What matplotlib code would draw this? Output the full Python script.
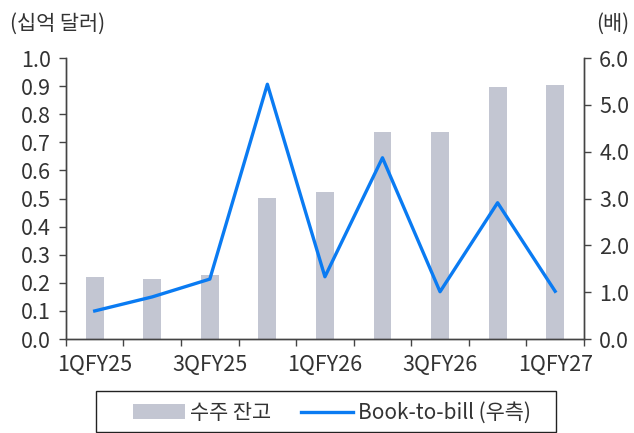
import matplotlib.pyplot as plt
from matplotlib.patches import Rectangle
import numpy as np

plt.rcParams['font.family'] = ['Noto Sans CJK KR', 'DejaVu Sans']

# data
quarters = ['1QFY25', '2QFY25', '3QFY25', '4QFY25', '1QFY26',
            '2QFY26', '3QFY26', '4QFY26', '1QFY27']
backlog = [0.22, 0.212, 0.227, 0.503, 0.522, 0.736, 0.736, 0.898, 0.905]
book_to_bill = [0.60, 0.90, 1.28, 5.44, 1.33, 3.87, 1.01, 2.91, 1.02]

bar_color = '#C3C6D2'
line_color = '#0A7BF2'
axis_color = '#444444'
text_color = '#333333'

fig = plt.figure(figsize=(6.34, 4.33), dpi=100)
ax = fig.add_axes([0.104, 0.217, 0.817, 0.649])
ax2 = ax.twinx()

x = np.arange(len(quarters))
ax.bar(x, backlog, width=0.31, color=bar_color, label='수주 잔고', zorder=2)
ax2.plot(x, book_to_bill, color=line_color, linewidth=2.4, label='Book-to-bill (우측)',
         zorder=3)

ax.set_xlim(-0.5, len(quarters) - 0.5)
ax.set_ylim(0, 1.0)
ax2.set_ylim(0, 6.0)
ax.set_yticks(np.arange(0, 1.01, 0.1))
ax.set_yticklabels([f'{v:.1f}' for v in np.arange(0, 1.01, 0.1)])
ax2.set_yticks(np.arange(0, 6.01, 1.0))
ax2.set_yticklabels([f'{v:.1f}' for v in np.arange(0, 6.01, 1.0)])

# ticks on category boundaries, labels on every other category
ax.set_xticks(np.arange(-0.5, len(quarters), 1.0))
ax.set_xticklabels([])
ax.set_xticks(x[::2], minor=True)
ax.set_xticklabels(quarters[::2], minor=True)

for a in (ax, ax2):
    a.spines['top'].set_visible(False)
    for s in ('left', 'right', 'bottom'):
        a.spines[s].set_color(axis_color)
        a.spines[s].set_linewidth(1.0)
    a.tick_params(which='both', labelsize=15.5, colors=axis_color,
                  labelcolor=text_color, length=5, width=1.0, pad=6)
ax.tick_params(axis='x', which='minor', length=0, pad=11)

fig.text(0.015, 0.945, '(십억 달러)', fontsize=15, color=text_color, va='center')
fig.text(0.992, 0.945, '(배)', fontsize=15, color=text_color, va='center', ha='right')

# legend without its own frame, box drawn separately (wider than the entries)
h1, l1 = ax.get_legend_handles_labels()
h2, l2 = ax2.get_legend_handles_labels()
leg = fig.legend(h1 + h2, l1 + l2, loc='center', bbox_to_anchor=(332 / 634, 1 - 413 / 433),
                 ncol=2, fontsize=15, frameon=False, handlelength=2.5,
                 handletextpad=0.25, columnspacing=1.4)
for t in leg.get_texts():
    t.set_color(text_color)
fig.patches.append(Rectangle((96 / 634, 1 / 433), 460 / 634, 392 / 433 - 1 / 433 - 350 / 433,
                             transform=fig.transFigure, fill=False,
                             edgecolor='#222222', linewidth=1.0))

fig.savefig('out.png', dpi=100)
